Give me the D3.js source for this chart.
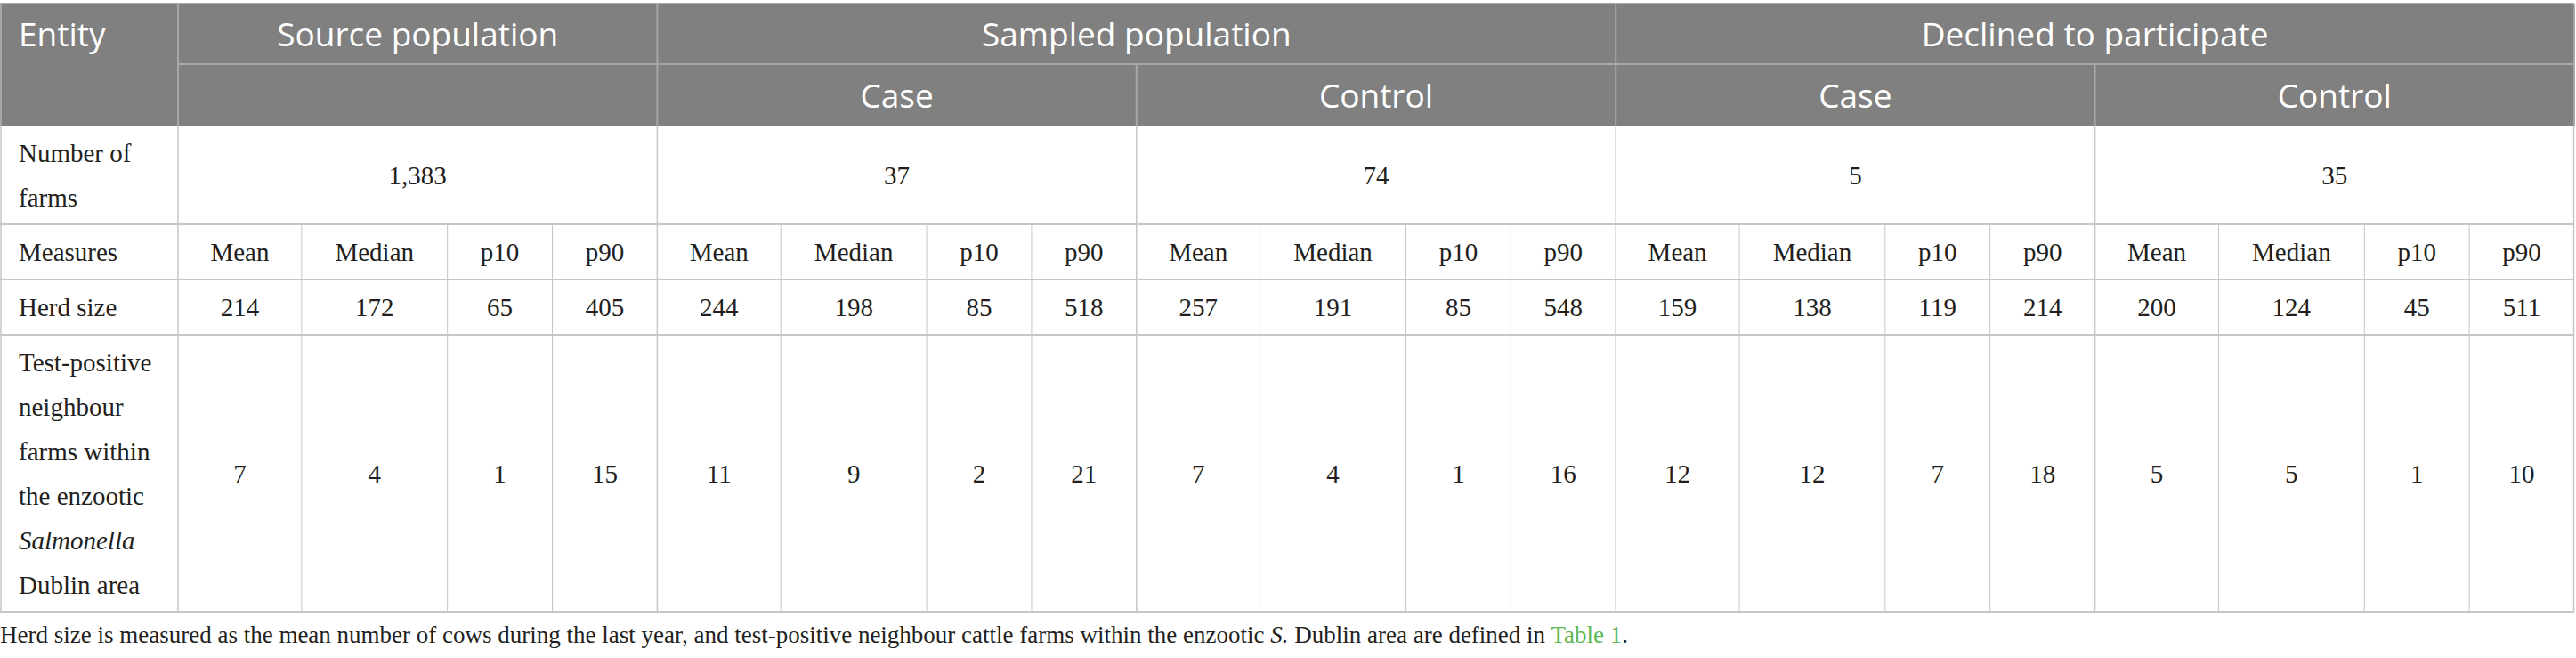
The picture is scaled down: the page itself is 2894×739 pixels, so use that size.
<!DOCTYPE html>
<html>
<head>
<meta charset="utf-8">
<script src="https://cdn.jsdelivr.net/npm/d3@7"></script>
<style>
  html, body { margin: 0; padding: 0; background: #fff; }
  svg { display: block; }
</style>
</head>
<body>
<script>
// table content
var groups = ["Source population", "Sampled population", "Declined to participate"];
var groupBlocks = [[0, 1], [1, 3], [3, 5]];
var subgroups = ["", "Case", "Control", "Case", "Control"];
var measures = ["Mean", "Median", "p10", "p90"];
var farmCounts = ["1,383", "37", "74", "5", "35"];
var herdSize = [214, 172, 65, 405, 244, 198, 85, 518, 257, 191, 85, 548, 159, 138, 119, 214, 200, 124, 45, 511];
var neighbours = [7, 4, 1, 15, 11, 9, 2, 21, 7, 4, 1, 16, 12, 12, 7, 18, 5, 5, 1, 10];
var rowLabels = [
  [{t: "Number of"}, {t: "farms"}],
  [{t: "Measures"}],
  [{t: "Herd size"}],
  [{t: "Test-positive"}, {t: "neighbour"}, {t: "farms within"}, {t: "the enzootic"}, {t: "Salmonella", i: true}, {t: "Dublin area"}]
];
var footnote = [
  {t: "Herd size is measured as the mean number of cows during the last year, and test-positive neighbour cattle farms within the enzootic "},
  {t: "S.", i: true},
  {t: " Dublin area are defined in "},
  {t: "Table 1", link: true},
  {t: "."}
];

// layout
var W = 2894, H = 739;
var entityW = 200, right = 2892;
var rowEdges = [4, 72, 142, 252, 314, 376, 687];
var subWeights = [139, 164, 118, 118];
var headBg = "#7f807f", headLine = "#a6a7a6", bodyLine = "#c6c6c6";
var serif = "'Liberation Serif', 'Times New Roman', serif";
var sans = "'Open Sans', 'Noto Sans', sans-serif";

var svg = d3.select("body").append("svg")
  .attr("width", W)
  .attr("height", H);

var xBlock = d3.scaleLinear().domain([0, 5]).range([entityW, right]);
var total = d3.sum(subWeights);
var subCum = [0].concat(Array.from(d3.cumsum(subWeights), function (d) { return d / total; }));
function xSub(i) { // left edge of sub column i (0..20)
  var b = Math.floor(i / 4), k = i % 4;
  if (b === 5) return right;
  return xBlock(b + subCum[k]);
}
function cx(i) { return (xSub(i) + xSub(i + 1)) / 2; }
var y = function (r) { return rowEdges[r]; };
var cy = function (r) { return (rowEdges[r] + rowEdges[r + 1]) / 2; };

// header background
svg.append("rect")
  .attr("x", 0).attr("y", y(0))
  .attr("width", right).attr("height", y(2) - y(0))
  .attr("fill", headBg);

// header lines
var hl = svg.append("g").attr("stroke", headLine).attr("stroke-width", 2);
hl.append("line").attr("x1", 0).attr("x2", right).attr("y1", y(0)).attr("y2", y(0));
hl.append("line").attr("x1", entityW).attr("x2", right).attr("y1", y(1)).attr("y2", y(1));
hl.selectAll(".gv").data([0, 1, 3, 5]).enter().append("line")
  .attr("x1", function (d) { return xBlock(d); }).attr("x2", function (d) { return xBlock(d); })
  .attr("y1", y(0)).attr("y2", y(2));
hl.selectAll(".sv").data([2, 4]).enter().append("line")
  .attr("x1", function (d) { return xBlock(d); }).attr("x2", function (d) { return xBlock(d); })
  .attr("y1", y(1)).attr("y2", y(2));
hl.append("line").attr("x1", 1).attr("x2", 1).attr("y1", y(0)).attr("y2", y(2));

// header text
var ht = svg.append("g").attr("fill", "#fff").attr("font-family", sans).attr("font-size", 37);
ht.append("text").attr("x", 21).attr("y", cy(0) + 14).text("Entity");
ht.selectAll(".g").data(groups).enter().append("text")
  .attr("x", function (d, i) { return (xBlock(groupBlocks[i][0]) + xBlock(groupBlocks[i][1])) / 2; })
  .attr("y", cy(0) + 14)
  .attr("text-anchor", "middle")
  .text(function (d) { return d; });
ht.selectAll(".s").data(subgroups).enter().append("text")
  .attr("x", function (d, i) { return xBlock(i + 0.5); })
  .attr("y", cy(1) + 14)
  .attr("text-anchor", "middle")
  .text(function (d) { return d; });

// body lines
var bl = svg.append("g").attr("stroke", bodyLine).attr("stroke-width", 1.5);
[3, 4, 5, 6].forEach(function (r) {
  bl.append("line").attr("x1", 0).attr("x2", right).attr("y1", y(r)).attr("y2", y(r))
    .attr("stroke-width", 2);
});
bl.selectAll(".ov").data([1, entityW, right - 0.5]).enter().append("line")
  .attr("x1", function (d) { return d; }).attr("x2", function (d) { return d; })
  .attr("y1", y(2)).attr("y2", y(6));
bl.selectAll(".bv").data(d3.range(1, 5)).enter().append("line")
  .attr("x1", function (d) { return xBlock(d); }).attr("x2", function (d) { return xBlock(d); })
  .attr("y1", y(2)).attr("y2", y(6));
bl.selectAll(".cv").data(d3.range(1, 20).filter(function (d) { return d % 4 !== 0; })).enter().append("line")
  .attr("x1", function (d) { return xSub(d); }).attr("x2", function (d) { return xSub(d); })
  .attr("y1", y(3)).attr("y2", y(6))
  .attr("stroke-width", 1);

// body text
var bt = svg.append("g").attr("fill", "#231f20").attr("font-family", serif).attr("font-size", 29);
var lh = 50;
rowLabels.forEach(function (lines, j) {
  var r = j + 2;
  var y0 = cy(r) - (lines.length - 1) * lh / 2;
  bt.selectAll(".rl" + j).data(lines).enter().append("text")
    .attr("x", 21)
    .attr("y", function (d, k) { return y0 + k * lh + 10; })
    .attr("font-style", function (d) { return d.i ? "italic" : null; })
    .text(function (d) { return d.t; });
});
bt.selectAll(".fc").data(farmCounts).enter().append("text")
  .attr("x", function (d, i) { return xBlock(i + 0.5); })
  .attr("y", cy(2) + 10)
  .attr("text-anchor", "middle")
  .text(function (d) { return d; });
var measureCells = d3.range(20).map(function (i) { return measures[i % 4]; });
[[measureCells, 3], [herdSize, 4], [neighbours, 5]].forEach(function (p, j) {
  bt.selectAll(".v" + j).data(p[0]).enter().append("text")
    .attr("x", function (d, i) { return cx(i); })
    .attr("y", cy(p[1]) + 10)
    .attr("text-anchor", "middle")
    .text(function (d) { return d; });
});

// footnote
var fn = svg.append("text")
  .attr("x", 0).attr("y", 722)
  .attr("font-family", serif).attr("font-size", 27).attr("fill", "#231f20");
fn.selectAll("tspan").data(footnote).enter().append("tspan")
  .attr("font-style", function (d) { return d.i ? "italic" : null; })
  .attr("fill", function (d) { return d.link ? "#5db854" : null; })
  .text(function (d) { return d.t; });
</script>
</body>
</html>
